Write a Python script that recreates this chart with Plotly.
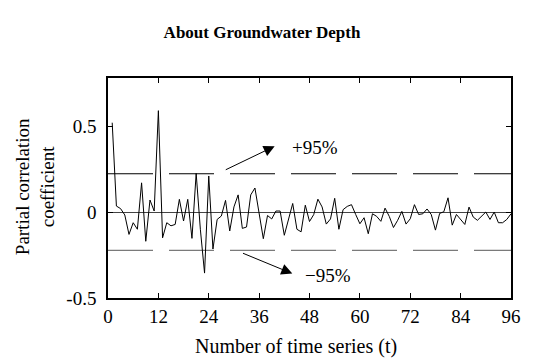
import plotly.graph_objects as go

# ---- data ----
lags = list(range(1, 97))
pacf = [
    0.52, 0.035, 0.02, -0.017, -0.13, -0.062, -0.10, 0.17, -0.17, 0.07,
    0.006, 0.59, -0.15, -0.062, -0.08, -0.072, 0.074, -0.052, 0.074, -0.153,
    0.225, -0.10, -0.355, 0.21, -0.215, -0.043, -0.023, 0.068, -0.11, 0.03,
    0.10, -0.095, -0.087, 0.10, 0.14, -0.01, -0.155, -0.02, -0.04, 0.006,
    0.006, -0.135, -0.045, 0.05, -0.10, -0.115, 0.04, -0.055, -0.015, 0.075,
    0.03, -0.07, -0.04, 0.08, -0.10, 0.014, 0.033, 0.043, -0.014, -0.068,
    -0.033, -0.126, -0.01, -0.025, -0.054, 0.023, -0.025, -0.09, -0.048, 0.004,
    -0.07, -0.039, 0.043, -0.014, -0.01, 0.018, -0.014, -0.105, -0.008, 0.002,
    0.083, -0.076, -0.014, -0.043, -0.072, 0.029, -0.029, -0.048, -0.023, 0.0,
    -0.043, 0.0, -0.062, -0.062, -0.043, -0.01,
]
conf_upper = 0.223
conf_lower = -0.223
x_span = [0, 96]
x_ticks = [0, 12, 24, 36, 48, 60, 72, 84, 96]
y_ticks = [-0.5, 0, 0.5]
y_tick_labels = ["-0.5", "0", "0.5"]
label_upper = "+95%"
label_lower = "\u221295%"
title_text = "About Groundwater Depth"
x_title = "Number of time series (t)"
y_title = "Partial correlation<br>coefficient"

SERIF = "Liberation Serif"

fig = go.Figure()

fig.add_trace(go.Scatter(
    x=x_span, y=[conf_upper, conf_upper], mode="lines",
    line=dict(color="black", width=1.2, dash="45px,16px"),
    hoverinfo="skip", showlegend=False))
fig.add_trace(go.Scatter(
    x=x_span, y=[conf_lower, conf_lower], mode="lines",
    line=dict(color="#7a7a7a", width=1.4, dash="45px,16px"),
    hoverinfo="skip", showlegend=False))
fig.add_trace(go.Scatter(
    x=lags, y=pacf, mode="lines",
    line=dict(color="black", width=1),
    showlegend=False))

annotations = [
    # arrows
    dict(x=39.7, y=0.383, ax=27.7, ay=0.242, xref="x", yref="y",
         axref="x", ayref="y", text="", showarrow=True,
         arrowhead=2, arrowsize=2.2, arrowwidth=1, arrowcolor="black"),
    dict(x=43.9, y=-0.358, ax=31.8, ay=-0.236, xref="x", yref="y",
         axref="x", ayref="y", text="", showarrow=True,
         arrowhead=2, arrowsize=2.2, arrowwidth=1, arrowcolor="black"),
    dict(x=49.4, y=0.373, xref="x", yref="y", text=label_upper,
         showarrow=False, xanchor="center", yanchor="middle",
         font=dict(family=SERIF, size=19, color="black")),
    dict(x=52.5, y=-0.371, xref="x", yref="y", text=label_lower,
         showarrow=False, xanchor="center", yanchor="middle",
         font=dict(family=SERIF, size=19, color="black")),
    # axis titles
    dict(x=-0.181, y=0.504, xref="paper", yref="paper", text=y_title,
         textangle=-90, showarrow=False, xanchor="center", yanchor="middle",
         font=dict(family=SERIF, size=19, color="black")),
    dict(x=0.467, y=-0.22, xref="paper", yref="paper", text=x_title,
         showarrow=False, xanchor="center", yanchor="middle",
         font=dict(family=SERIF, size=20, color="black")),
]

fig.update_layout(
    width=533, height=358,
    margin=dict(l=108, r=14, t=78, b=60),
    paper_bgcolor="white", plot_bgcolor="white",
    title=dict(text="<b>" + title_text + "</b>", x=0.4916, xref="container",
               xanchor="center", y=1 - 32 / 358, yref="container",
               yanchor="middle",
               font=dict(family=SERIF, size=17, color="black")),
    annotations=annotations,
    xaxis=dict(range=x_span, tickvals=x_ticks, ticks="inside", ticklen=5,
               tickwidth=1, tickcolor="black", showline=True, linecolor="black",
               linewidth=1.5, mirror="ticks", showgrid=False, zeroline=False,
               tickfont=dict(family=SERIF, size=19, color="black")),
    yaxis=dict(range=[-0.5, 0.78], tickvals=y_ticks, ticktext=y_tick_labels,
               ticks="inside", ticklen=5, tickwidth=1, tickcolor="black",
               showline=True, linecolor="black", linewidth=1.5, mirror="ticks",
               showgrid=False, zeroline=True, zerolinecolor="#444444",
               zerolinewidth=1, ticklabelstandoff=6,
               tickfont=dict(family=SERIF, size=19, color="black")),
)

fig.write_html("out.html")
